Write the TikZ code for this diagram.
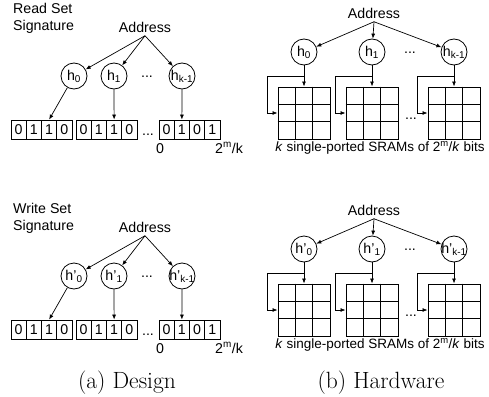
\documentclass[tikz,border=0pt]{standalone}
\usepackage{fontspec}
\setsansfont{Liberation Sans}
\usetikzlibrary{arrows.meta,calc}
\tikzset{
  sf/.style={font=\sffamily\fontsize{14.2}{17}\selectfont},
  sfsmall/.style={font=\sffamily\fontsize{13.5}{16}\selectfont},
  hnode/.style={circle, draw, line width=0.8pt, minimum size=26pt, inner sep=0pt, sf},
  bitcell/.style={draw, line width=0.8pt, minimum width=15.25pt, minimum height=19pt, inner sep=0pt, sf},
  sram/.style={draw, line width=1pt, minimum size=52pt, inner sep=0pt},
  arr/.style={-{Latex[length=5pt,width=4pt]}, line width=0.7pt},
  captext/.style={font=\fontsize{23.5}{28}\selectfont},
}
\newcommand\mkbits[7]{%
  \foreach \b [count=\i from 0] in {#4,#5,#6,#7}{%
    \node[bitcell] (#1c#2\i) at ({#3+15.25*(\i+0.5)},129.5) {\b};}}
\newcommand\mkgridlines[1]{%
  \foreach \f in {0.3333,0.6667}{%
    \draw[line width=1pt] ($(#1.north west)!\f!(#1.north east)$) -- ($(#1.south west)!\f!(#1.south east)$);
    \draw[line width=1pt] ($(#1.north west)!\f!(#1.south west)$) -- ($(#1.north east)!\f!(#1.south east)$);}}
\newcommand\mkdesign[4]{%
  \begin{scope}[yshift=-#2pt]
    \node[sf, anchor=north west, align=left, inner sep=0pt] (#1t) at (13,3) {#3};
    \node[sf] (#1a) at (145,27) {Address};
    \node[hnode] (#1h0) at (74,76) {\makebox[0pt]{h#4\textsubscript{0}}};
    \node[hnode] (#1h1) at (114,76) {\makebox[0pt]{h#4\textsubscript{1}}};
    \node[hnode] (#1h2) at (182,76) {\makebox[0pt]{h#4\textsubscript{k-1}}};
    \node[sf, inner sep=0pt] (#1d) at (147,77) {...};
    \mkbits{#1}{1}{11}{0}{1}{1}{0}
    \mkbits{#1}{2}{76}{0}{1}{1}{0}
    \mkbits{#1}{3}{159}{0}{1}{0}{1}
    \node[sf, inner sep=0pt] (#1e) at (148,135) {...};
    \node[sf] (#1z) at (160,149) {0};
    \node[sf] (#1m) at (229,148) {2\textsuperscript{m}/k};
    \draw[arr] (#1a.south) -- (#1h0);
    \draw[arr] (#1a.south) -- (#1h1);
    \draw[arr] (#1a.south) -- (#1h2);
    \draw[arr] (#1h0) -- (#1c12.north);
    \draw[arr] (#1h1) -- (#1c22.north);
    \draw[arr] (#1h2) -- (#1c31.north);
  \end{scope}}
\newcommand\mkhw[3]{%
  \begin{scope}[yshift=-#2pt]
    \node[sf] (#1a) at (374,13) {Address};
    \node[hnode] (#1h0) at (304,52) {\makebox[0pt]{h#3\textsubscript{0}}};
    \node[hnode] (#1h1) at (372,52) {\makebox[0pt]{h#3\textsubscript{1}}};
    \node[hnode] (#1h2) at (454,52) {\makebox[0pt]{h#3\textsubscript{k-1}}};
    \node[sf, inner sep=0pt] (#1d) at (410,53) {...};
    \node[sram] (#1g0) at (304,113) {};
    \node[sram] (#1g1) at (372,113) {};
    \node[sram] (#1g2) at (454,113) {};
    \mkgridlines{#1g0}\mkgridlines{#1g1}\mkgridlines{#1g2}
    \draw[arr] (#1a.south) -- (#1h0);
    \draw[arr] (#1a.south) -- (#1h1);
    \draw[arr] (#1a.south) -- (#1h2);
    \foreach \k in {0,1,2}{%
      \draw[arr] (#1h\k.south) -- (#1g\k.north);
      \coordinate (#1b\k) at ($(#1h\k.south)!0.5!(#1g\k.north)$);
      \draw[arr] (#1b\k) -| ($(#1g\k.west)+(-10,0)$) |- (#1g\k.west);}
    \node[sf, inner sep=0pt] (#1e) at (411,119) {...};
    \node[sfsmall, inner sep=0pt] (#1cap) at (380,148) {\textit{k} single-ported SRAMs of 2\textsuperscript{m}/\textit{k} bits};
  \end{scope}}
\begin{document}
\begin{tikzpicture}[x=1pt, y=-1pt]
  \useasboundingbox (0,0) rectangle (489,396);
  \mkdesign{r}{0}{Read Set\\Signature}{}
  \mkdesign{w}{200}{Write Set\\Signature}{'}
  \mkhw{R}{0}{}
  \mkhw{W}{197}{'}
  \node[captext] (capa) at (127,383) {(a) Design};
  \node[captext] (capb) at (381,383) {(b) Hardware};
\end{tikzpicture}
\end{document}
